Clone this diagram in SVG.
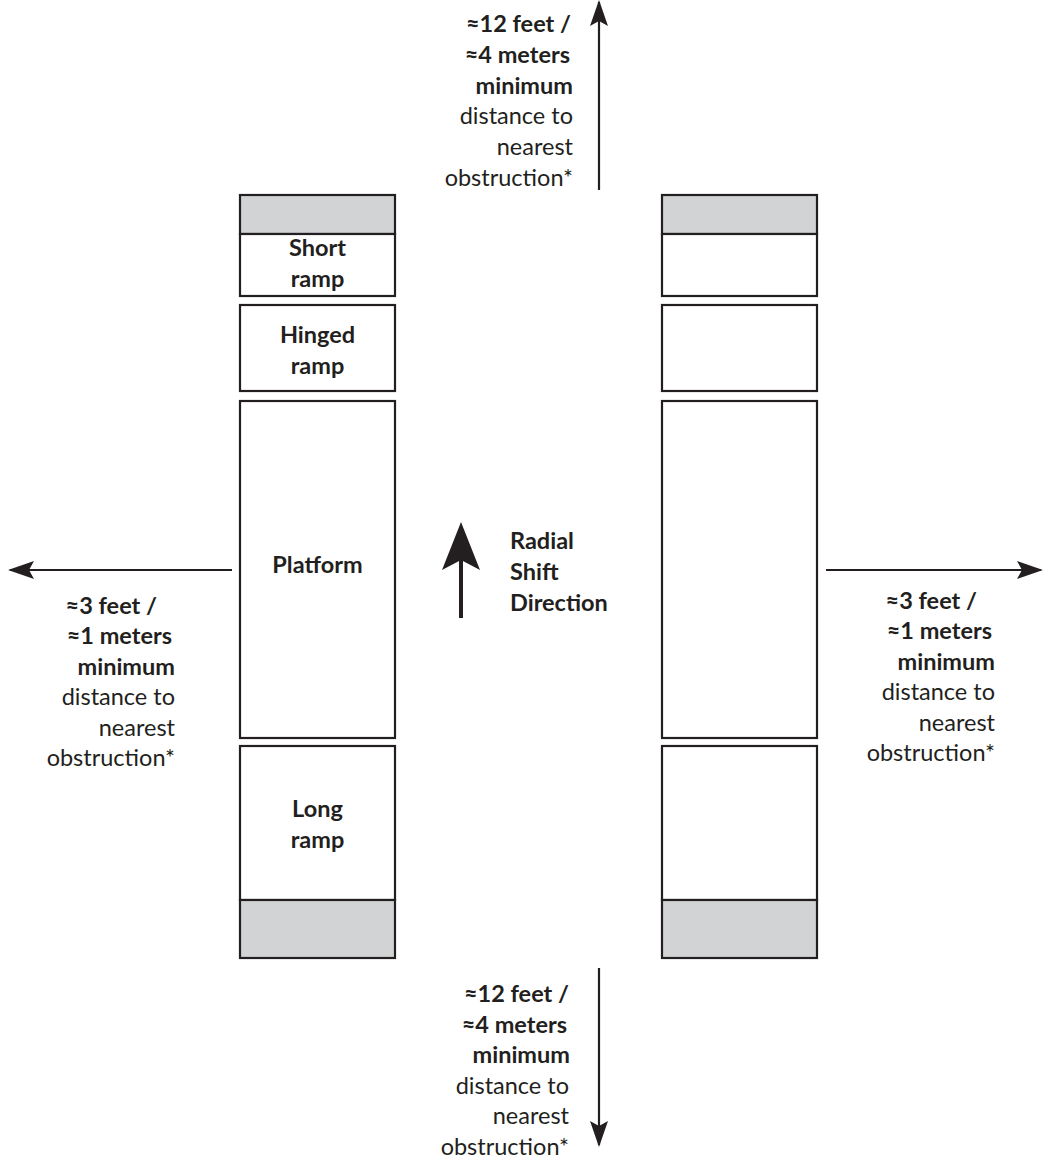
<svg xmlns="http://www.w3.org/2000/svg" width="1043" height="1159" viewBox="0 0 1043 1159">
<style>
.box{fill:#fff;stroke:#231f20;stroke-width:2.2}
.gray{fill:#d1d3d4;stroke:#231f20;stroke-width:2.2}
.ln{stroke:#231f20;stroke-width:2.2;fill:none}
text{font-family:Lato,"Liberation Sans",sans-serif;font-size:23.5px;fill:#231f20}
.b{font-weight:bold}
.c{text-anchor:middle}
.r{text-anchor:end}
</style>
<defs>
<marker id="ah" markerUnits="userSpaceOnUse" viewBox="0 0 26 18" refX="24" refY="9" markerWidth="26" markerHeight="18" orient="auto">
<path d="M0,0 L26,9 L0,18 L5,9 Z" fill="#231f20"/>
</marker>
</defs>
<rect width="1043" height="1159" fill="#fff"/>
<g id="left-column">
<g id="left-top-cap"><rect class="gray" x="240" y="195" width="155" height="39"/></g>
<g id="short-ramp"><rect class="box" x="240" y="234" width="155" height="62"/><text class="b c" x="317.5" y="256">Short</text><text class="b c" x="317.5" y="287">ramp</text></g>
<g id="hinged-ramp"><rect class="box" x="240" y="305" width="155" height="86"/><text class="b c" x="317.5" y="343">Hinged</text><text class="b c" x="317.5" y="374">ramp</text></g>
<g id="platform"><rect class="box" x="240" y="401" width="155" height="337"/><text class="b c" x="317.5" y="573">Platform</text></g>
<g id="long-ramp"><rect class="box" x="240" y="746" width="155" height="154"/><text class="b c" x="317.5" y="817">Long</text><text class="b c" x="317.5" y="848">ramp</text></g>
<g id="left-bottom-cap"><rect class="gray" x="240" y="900" width="155" height="58"/></g>
</g>
<g id="right-column">
<g id="right-top-cap"><rect class="gray" x="662" y="195" width="155" height="39"/></g>
<g id="right-short"><rect class="box" x="662" y="234" width="155" height="62"/></g>
<g id="right-hinged"><rect class="box" x="662" y="305" width="155" height="86"/></g>
<g id="right-platform"><rect class="box" x="662" y="401" width="155" height="337"/></g>
<g id="right-long"><rect class="box" x="662" y="746" width="155" height="154"/></g>
<g id="right-bottom-cap"><rect class="gray" x="662" y="900" width="155" height="58"/></g>
</g>
<g id="connectors">
<line class="ln" x1="599" y1="190" x2="599" y2="2" marker-end="url(#ah)"/>
<line class="ln" x1="599" y1="968" x2="599" y2="1145" marker-end="url(#ah)"/>
<line class="ln" x1="232" y1="570" x2="10" y2="570" marker-end="url(#ah)"/>
<line class="ln" x1="826" y1="570" x2="1041" y2="570" marker-end="url(#ah)"/>
</g>
<g id="radial-shift">
<line x1="461" y1="618" x2="461" y2="556" stroke="#231f20" stroke-width="4"/>
<path d="M461,522 L480,570 L461,560 L442,570 Z" fill="#231f20"/>
<text class="b" x="510" y="549">Radial</text>
<text class="b" x="510" y="580">Shift</text>
<text class="b" x="510" y="611">Direction</text>
</g>
<g id="top-label">
<text class="b r" x="571" y="32">≈12 feet /</text>
<text class="b r" x="570" y="63">≈4 meters</text>
<text class="b r" x="573" y="94">minimum</text>
<text class="r" x="573" y="124">distance to</text>
<text class="r" x="573" y="155">nearest</text>
<text class="r" x="573" y="186">obstruction*</text>
</g>
<g id="bottom-label">
<text class="b r" x="569" y="1002">≈12 feet /</text>
<text class="b r" x="567" y="1033">≈4 meters</text>
<text class="b r" x="570" y="1063">minimum</text>
<text class="r" x="569" y="1094">distance to</text>
<text class="r" x="569" y="1124">nearest</text>
<text class="r" x="569" y="1155">obstruction*</text>
</g>
<g id="left-label">
<text class="b r" x="157" y="614">≈3 feet /</text>
<text class="b r" x="172" y="644">≈1 meters</text>
<text class="b r" x="175" y="675">minimum</text>
<text class="r" x="175" y="705">distance to</text>
<text class="r" x="175" y="736">nearest</text>
<text class="r" x="175" y="766">obstruction*</text>
</g>
<g id="right-label">
<text class="b r" x="977" y="609">≈3 feet /</text>
<text class="b r" x="992" y="639">≈1 meters</text>
<text class="b r" x="995" y="670">minimum</text>
<text class="r" x="995" y="700">distance to</text>
<text class="r" x="995" y="731">nearest</text>
<text class="r" x="995" y="761">obstruction*</text>
</g>
</svg>
